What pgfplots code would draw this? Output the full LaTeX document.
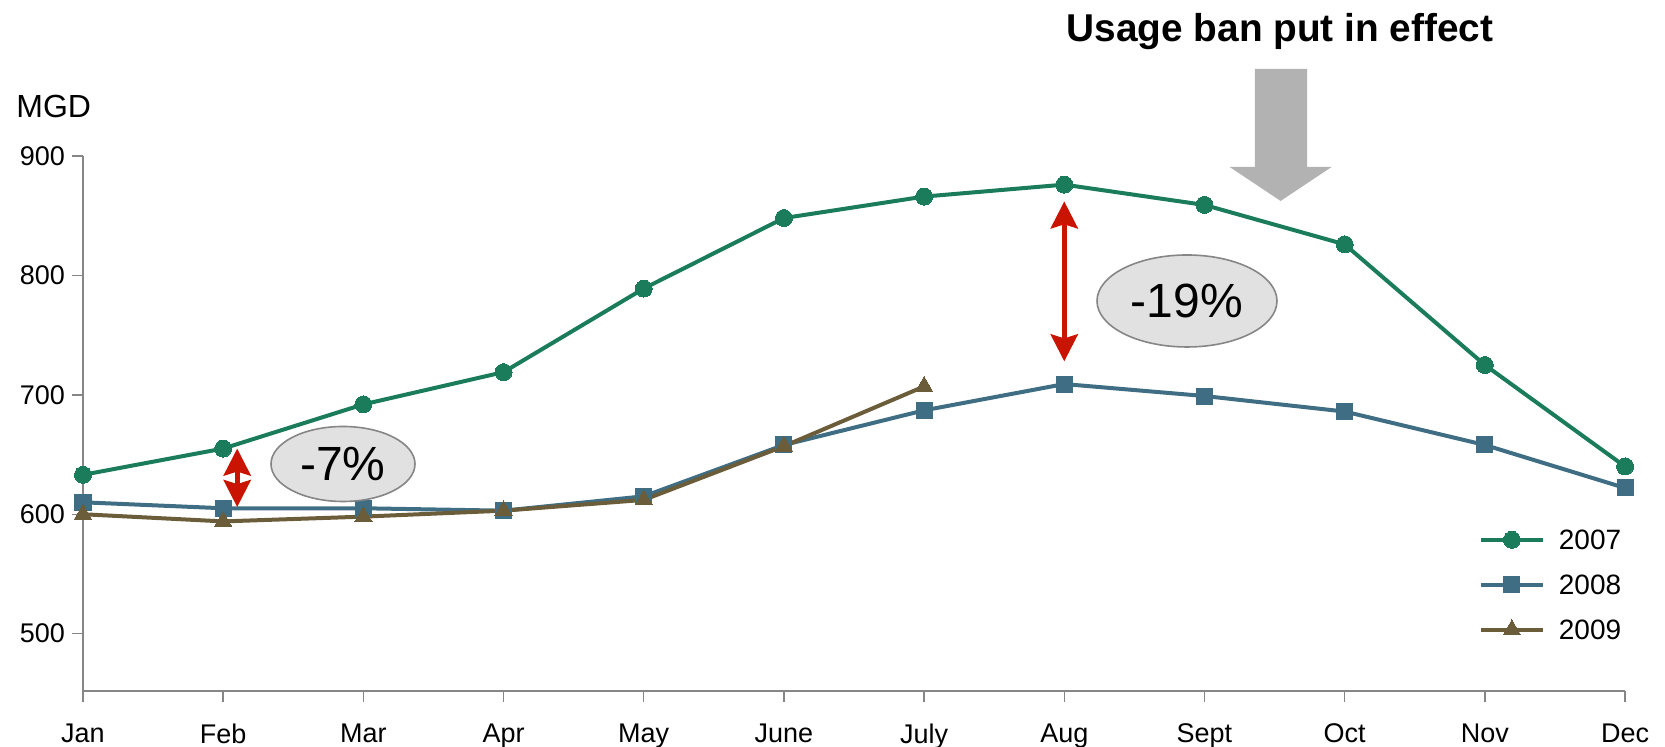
\documentclass[border=0pt]{standalone}
\usepackage{fontspec}
\setmainfont{Liberation Sans}
\usepackage{pgfplots}
\pgfplotsset{compat=1.18}
\usetikzlibrary{arrows.meta}
\definecolor{c07}{RGB}{26,124,90}
\definecolor{c08}{RGB}{63,110,132}
\definecolor{c09}{RGB}{107,92,58}
\definecolor{cred}{RGB}{200,20,0}
\definecolor{cgrayarrow}{RGB}{178,178,178}
\definecolor{cell}{RGB}{225,225,225}
\definecolor{caxis}{RGB}{134,134,134}
\begin{document}
\begin{tikzpicture}
\useasboundingbox (-41.5pt,-28pt) rectangle (791pt,345.5pt);
\begin{axis}[
  at={(0pt,0pt)}, anchor=south west,
  scale only axis, width=771pt, height=267.5pt,
  xmin=0, xmax=11, ymin=452, ymax=900,
  axis x line=bottom, axis y line=left,
  x axis line style={-, line width=1.3pt, color=caxis},
  y axis line style={-, line width=0.7pt, color=caxis},
  tick style={color=caxis, line width=0.7pt},
  tick align=outside, major tick length=5.5pt,
  xtick={0,...,11},
  xticklabels={Jan,Feb,Mar,Apr,May,June,July,Aug,Sept,Oct,Nov,Dec},
  ytick={500,600,700,800,900},
  /pgf/number format/assume math mode=true,
  ticklabel style={font=\fontsize{13.5}{16}\selectfont, text=black},
  xticklabel style={yshift=-7.5pt},
  clip=false,
  legend style={at={(0.905,0.302)}, anchor=north west, draw=none, fill=none,
    font=\fontsize{14}{16}\selectfont, inner sep=0pt,
    nodes={inner sep=0pt, text height=10pt, text depth=0pt},
    row sep=12.5pt, column sep=0pt},
  legend cell align=left,
  legend image code/.code={\draw[mark repeat=2,mark phase=2] plot coordinates {(0pt,0pt)(15.5pt,0pt)(31pt,0pt)}; \path (38pt,0pt);},
]
\addplot[c07, line width=2pt, mark=*, mark size=4.25pt, mark options={fill=c07, draw=c07, line width=0pt}]
  coordinates {(0,633)(1,655)(2,692)(3,719)(4,789)(5,848)(6,866)(7,876)(8,859)(9,826)(10,725)(11,640)};
\addlegendentry{2007}
\addplot[c08, line width=2pt, mark=square*, mark size=4pt, mark options={fill=c08, draw=c08, line width=0pt}]
  coordinates {(0,610)(1,605)(2,605)(3,603)(4,615)(5,658)(6,687)(7,709)(8,699)(9,686)(10,658)(11,622)};
\addlegendentry{2008}
\addplot[c09, line width=2pt, mark=triangle*, mark size=5pt, mark options={fill=c09, draw=c09, line width=0pt}]
  coordinates {(0,600)(1,594)(2,598)(3,603)(4,612)(5,657)(6,707)};
\addlegendentry{2009}
\draw[cred, line width=2.5pt, {Stealth[length=13.5pt,width=13.5pt,inset=2pt]}-{Stealth[length=13.5pt,width=13.5pt,inset=2pt]}]
  (axis cs:7,862) -- (axis cs:7,728);
\draw[cred, line width=2.5pt, {Stealth[length=13.5pt,width=13.5pt,inset=2pt]}-{Stealth[length=13.5pt,width=13.5pt,inset=2pt]}]
  (axis cs:1.1,655) -- (axis cs:1.1,606);
\end{axis}
% ellipses
\draw[fill=cell, draw=caxis, line width=0.8pt] (552pt,195pt) ellipse (45pt and 23pt);
\node[font=\fontsize{24}{28}\selectfont] at (552pt,195pt) {-19\%};
\draw[fill=cell, draw=caxis, line width=0.8pt] (130pt,113.5pt) ellipse (36pt and 18.75pt);
\node[font=\fontsize{24}{28}\selectfont] at (130pt,113.5pt) {-7\%};
% title and gray arrow
\node[font=\fontsize{19.4}{23}\selectfont\bfseries] at (598.5pt,329.5pt) {Usage ban put in effect};
\fill[cgrayarrow] (585.9pt,311pt) -- (612pt,311pt) -- (612pt,262pt) -- (624.3pt,262pt) -- (598.8pt,245pt) -- (573.3pt,262pt) -- (585.9pt,262pt) -- cycle;
% MGD
\node[anchor=west, inner sep=0pt, font=\fontsize{16}{19}\selectfont] at (-33.5pt,292pt) {MGD};
\end{tikzpicture}
\end{document}
